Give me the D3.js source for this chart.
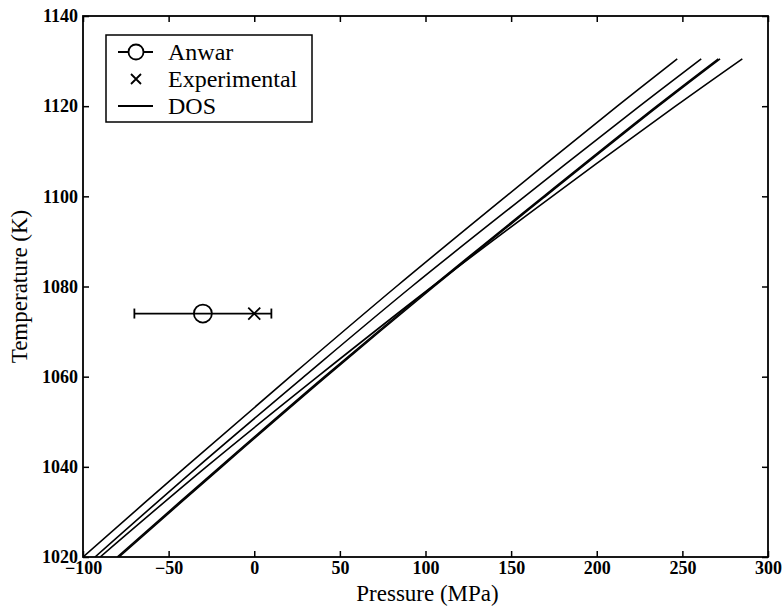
<!DOCTYPE html>
<html>
<head>
<meta charset="utf-8">
<script src="https://cdn.jsdelivr.net/npm/d3@7"></script>
<style>
  body { margin: 0; background: #fff; }
</style>
</head>
<body>
<div id="chart"></div>
<script>
// temperature levels at which each DOS curve was read (K)
const tempLevels = [1020, 1040, 1060, 1080, 1100, 1120, 1130.5];
// pressure (MPa) of each DOS curve at those temperatures
const dosCurves = [
  [-100, -40, 21, 83, 147, 212, 247],
  [-93, -33, 29, 92, 158, 225, 261],
  [-90, -28, 37, 104, 174, 246, 285],
  [-80, -20, 41, 104, 169, 235, 271],
  [-79, -19, 42, 105, 170, 236, 272]
];
const anwar = { p: -30, t: 1074, lo: -70, hi: 10 };
const experimental = { p: 0, t: 1074 };
const xTicks = [-100, -50, 0, 50, 100, 150, 200, 250, 300];
const yTicks = [1020, 1040, 1060, 1080, 1100, 1120, 1140];
const legendItems = ['Anwar', 'Experimental', 'DOS'];

const FONT = '"Liberation Serif", "Times New Roman", Times, "DejaVu Serif", serif';
const W = 782, H = 606;
const margin = { top: 16, right: 14, bottom: 49, left: 83 };
const w = W - margin.left - margin.right;
const h = H - margin.top - margin.bottom;

const svg = d3.select('#chart').append('svg')
  .attr('width', W).attr('height', H)
  .style('font-family', FONT);
const g = svg.append('g').attr('transform', `translate(${margin.left},${margin.top})`);

const x = d3.scaleLinear().domain([-100, 300]).range([0, w]);
const y = d3.scaleLinear().domain([1020, 1140]).range([h, 0]);

svg.append('defs').append('clipPath').attr('id', 'clip')
  .append('rect').attr('width', w).attr('height', h);

const line = d3.line()
  .x(d => x(d[0]))
  .y(d => y(d[1]))
  .curve(d3.curveCatmullRom);

g.append('g').attr('clip-path', 'url(#clip)')
  .selectAll('path')
  .data(dosCurves)
  .enter().append('path')
  .attr('d', c => line(c.map((p, i) => [p, tempLevels[i]])))
  .attr('fill', 'none')
  .attr('stroke', '#000')
  .attr('stroke-width', 1.6);

// error bar for Anwar
const ey = y(anwar.t);
g.append('line')
  .attr('x1', x(anwar.lo)).attr('x2', x(anwar.hi))
  .attr('y1', ey).attr('y2', ey)
  .attr('stroke', '#000').attr('stroke-width', 1.8);
[anwar.lo, anwar.hi].forEach(v => {
  g.append('line')
    .attr('x1', x(v)).attr('x2', x(v))
    .attr('y1', ey - 5).attr('y2', ey + 5)
    .attr('stroke', '#000').attr('stroke-width', 1.8);
});
g.append('circle')
  .attr('cx', x(anwar.p)).attr('cy', ey).attr('r', 9)
  .attr('fill', 'none').attr('stroke', '#000').attr('stroke-width', 1.8);

function cross(sel, cx, cy, s) {
  sel.append('path')
    .attr('d', `M${cx - s},${cy - s}L${cx + s},${cy + s}M${cx - s},${cy + s}L${cx + s},${cy - s}`)
    .attr('stroke', '#000').attr('stroke-width', 1.8).attr('fill', 'none');
}
cross(g, x(experimental.p), y(experimental.t), 6);

// axes with inward ticks on all four sides
const tickLen = 6;
const fmt = d => d < 0 ? '\u2212' + Math.abs(d) : String(d);
const xAxis = g.append('g').attr('transform', `translate(0,${h})`)
  .call(d3.axisBottom(x).tickValues(xTicks).tickSizeInner(-tickLen).tickSizeOuter(0).tickPadding(8)
    .tickFormat(fmt));
g.append('g')
  .call(d3.axisTop(x).tickValues(xTicks).tickSizeInner(-tickLen).tickSizeOuter(0).tickFormat(''));
g.append('g')
  .call(d3.axisLeft(y).tickValues(yTicks).tickSizeInner(-tickLen).tickSizeOuter(0).tickPadding(5)
    .tickFormat(fmt));
g.append('g').attr('transform', `translate(${w},0)`)
  .call(d3.axisRight(y).tickValues(yTicks).tickSizeInner(-tickLen).tickSizeOuter(0).tickFormat(''));

g.selectAll('.domain').remove();
g.selectAll('.tick line').attr('stroke', '#000').attr('stroke-width', 1.5);
g.selectAll('.tick text')
  .attr('font-family', FONT)
  .attr('font-size', 18)
  .attr('font-weight', 'bold')
  .attr('fill', '#000');
xAxis.selectAll('.tick text').attr('dy', '0.5em');

g.append('rect')
  .attr('width', w).attr('height', h)
  .attr('fill', 'none').attr('stroke', '#000').attr('stroke-width', 1.8);

// axis titles
svg.append('text')
  .attr('x', margin.left + w / 2 + 2).attr('y', 601)
  .attr('text-anchor', 'middle')
  .attr('font-family', FONT)
  .attr('font-size', 23)
  .text('Pressure (MPa)');
svg.append('text')
  .attr('transform', `translate(27,${margin.top + h / 2}) rotate(-90)`)
  .attr('text-anchor', 'middle')
  .attr('font-family', FONT)
  .attr('font-size', 23)
  .text('Temperature (K)');

// legend
const lg = svg.append('g').attr('transform', 'translate(106,35)');
lg.append('rect').attr('width', 206).attr('height', 87)
  .attr('fill', '#fff').attr('stroke', '#000').attr('stroke-width', 1.5);
const rowY = [17, 44, 71];
legendItems.forEach((name, i) => {
  const ry = rowY[i];
  if (name !== 'Experimental') {
    lg.append('line').attr('x1', 12).attr('x2', 47).attr('y1', ry).attr('y2', ry)
      .attr('stroke', '#000').attr('stroke-width', 1.8);
  }
  if (name === 'Anwar') {
    lg.append('circle').attr('cx', 30).attr('cy', ry).attr('r', 7.5)
      .attr('fill', '#fff').attr('stroke', '#000').attr('stroke-width', 1.8);
  }
  if (name === 'Experimental') cross(lg, 30, ry, 5);
  lg.append('text').attr('x', 62).attr('y', ry).attr('dy', '0.35em')
    .attr('font-family', FONT)
    .attr('font-size', 24).text(name);
});
</script>
</body>
</html>
